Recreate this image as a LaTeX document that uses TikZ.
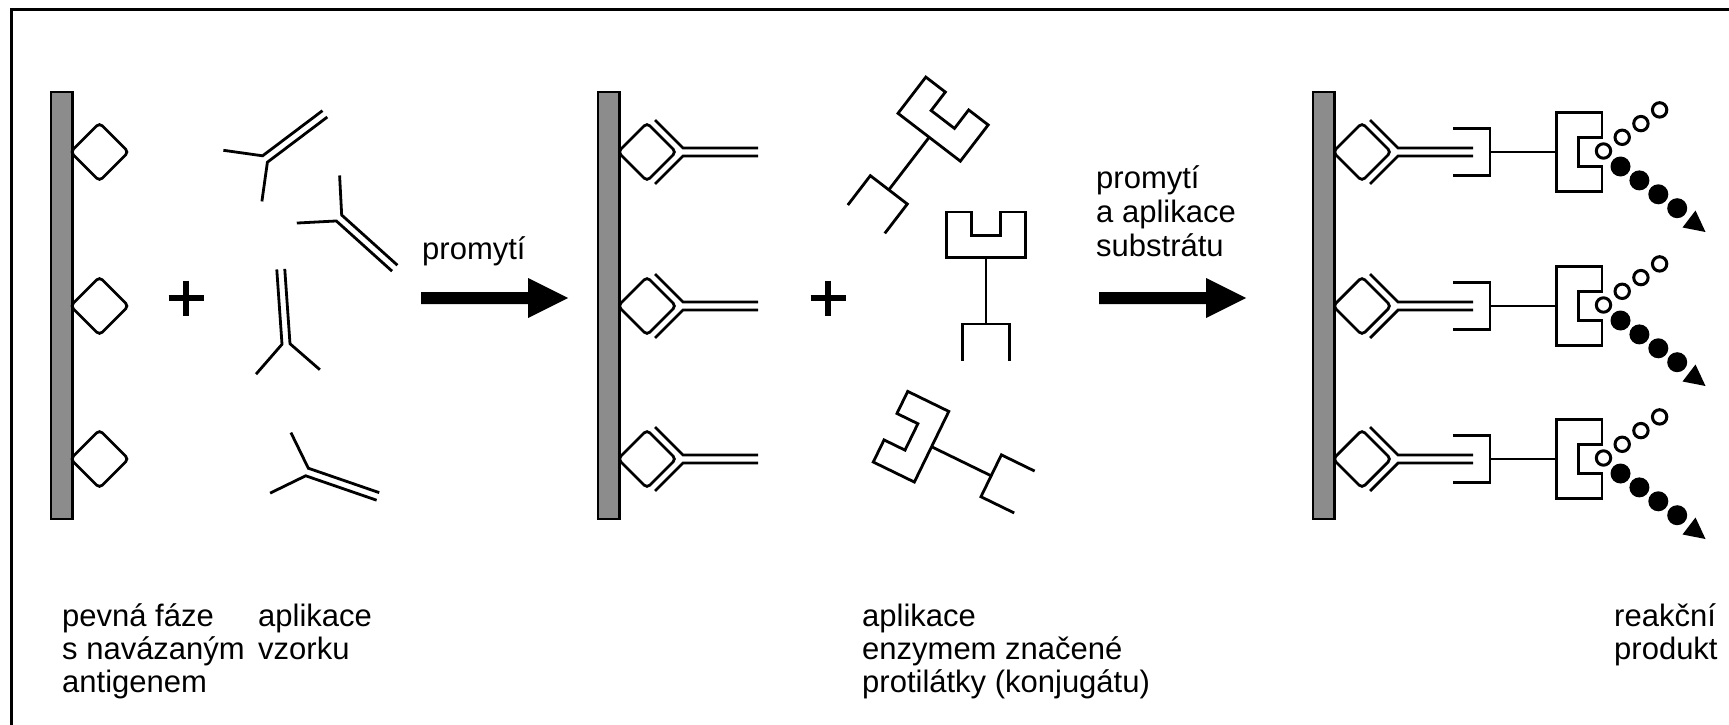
\documentclass[tikz,border=0pt]{standalone}
\usepackage{fontspec}
\setmainfont{Liberation Sans}
\definecolor{phase}{RGB}{140,140,140}
\begin{document}
\begin{tikzpicture}[x=1pt,y=-1pt,
  ln/.style={line width=2.8pt},
  steptext/.style={font=\fontsize{31}{34}\selectfont, inner sep=0pt, anchor=base west},
  captext/.style={font=\fontsize{31}{34}\selectfont, inner sep=0pt, anchor=base west},
  antigen/.pic={
    \draw[ln, rounded corners=4pt] (-29,0) -- (0,-29) -- (29,0) -- (0,29) -- cycle;
  },
  antibody/.pic={
    \draw[ln] (75,-4) -- (0,-4) -- (-28,-32);
    \draw[ln] (75,4) -- (0,4) -- (-28,32);
  },
  conjugate/.pic={
    \draw[ln] (0,-39.3) -- (45.7,-39.3) -- (45.7,39.3) -- (0,39.3) -- (0,14.7)
      -- (23.3,14.7) -- (23.3,-14.7) -- (0,-14.7) -- cycle;
    \draw[ln] (45.7,0) -- (112,0);
    \draw[ln] (149,-23.3) -- (112,-23.3) -- (112,23.3) -- (149,23.3);
  },
  plusmark/.pic={
    \draw[line width=6pt] (-17.5,0) -- (17.5,0) (0,-17.5) -- (0,17.5);
  },
  bigarrow/.pic={
    \fill (0,-6) -- (107,-6) -- (107,-20) -- (147,0) -- (107,20) -- (107,6) -- (0,6) -- cycle;
  }
]
\useasboundingbox (0,0) rectangle (1729,725);
\clip (0,0) rectangle (1729,725);

% outer frame
\draw[line width=3pt] (11,740) -- (11,10) -- (1740,10);

% solid phases
\foreach \bx in {51,598,1313}
  \draw[ln, fill=phase] (\bx,92) rectangle ++(21.7,427);

\foreach \y in {152,306,459}{
  % antigen on each phase
  \path (99.5,\y) pic{antigen};
  \path (647,\y) pic{antigen};
  \path (1362,\y) pic{antigen};
  % bound primary antibodies
  \path (683,\y) pic{antibody};
  \path (1398,\y) pic{antibody};
  % bound conjugate
  \path (1602,\y) pic[rotate=180]{conjugate};
  % substrate and reaction product
  \begin{scope}[shift={(1602,\y)}]
    \foreach \i in {0,...,3}
      \draw[line width=3pt, fill=white] (1.5+18.7*\i,-1-13.7*\i) circle[radius=7.2pt];
    \foreach \i in {0,...,3}
      \fill (18.5+18.9*\i,14.5+13.9*\i) circle[radius=10pt];
    \fill (80.5,75.5) -- (103.5,80) -- (93.5,58.5) -- cycle;
  \end{scope}
}

% free antibodies of the sample
\path (265,159) pic[rotate=37]{antibody};
\path (339,218) pic[rotate=-42]{antibody};
\path (286,344) pic[rotate=94]{antibody};
\path (307,472) pic[rotate=-19]{antibody};

% free conjugates
\path (957,101) pic[rotate=-127.5]{conjugate};
\path (986,212) pic[rotate=-90]{conjugate};
\path (890.5,426.7) pic[rotate=-26]{conjugate};

% plus signs and step arrows
\path (186,298) pic{plusmark};
\path (828,298) pic{plusmark};
\path (421,298) pic{bigarrow};
\path (1099,298) pic{bigarrow};

% step labels
\node[steptext] (wash1) at (422,259) {promytí};
\node[steptext] (wash2a) at (1096,188) {promytí};
\node[steptext] (wash2b) at (1096,222) {a aplikace};
\node[steptext] (wash2c) at (1096,256) {substrátu};

% captions
\node[captext] (capA1) at (62,626) {pevná fáze};
\node[captext] (capA2) at (62,659) {s navázaným};
\node[captext] (capA3) at (62,692) {antigenem};
\node[captext] (capB1) at (258,626) {aplikace};
\node[captext] (capB2) at (258,659) {vzorku};
\node[captext] (capC1) at (862,626) {aplikace};
\node[captext] (capC2) at (862,659) {enzymem značené};
\node[captext] (capC3) at (862,692) {protilátky (konjugátu)};
\node[captext] (capD1) at (1614,626) {reakční};
\node[captext] (capD2) at (1614,659) {produkt};
\end{tikzpicture}
\end{document}
